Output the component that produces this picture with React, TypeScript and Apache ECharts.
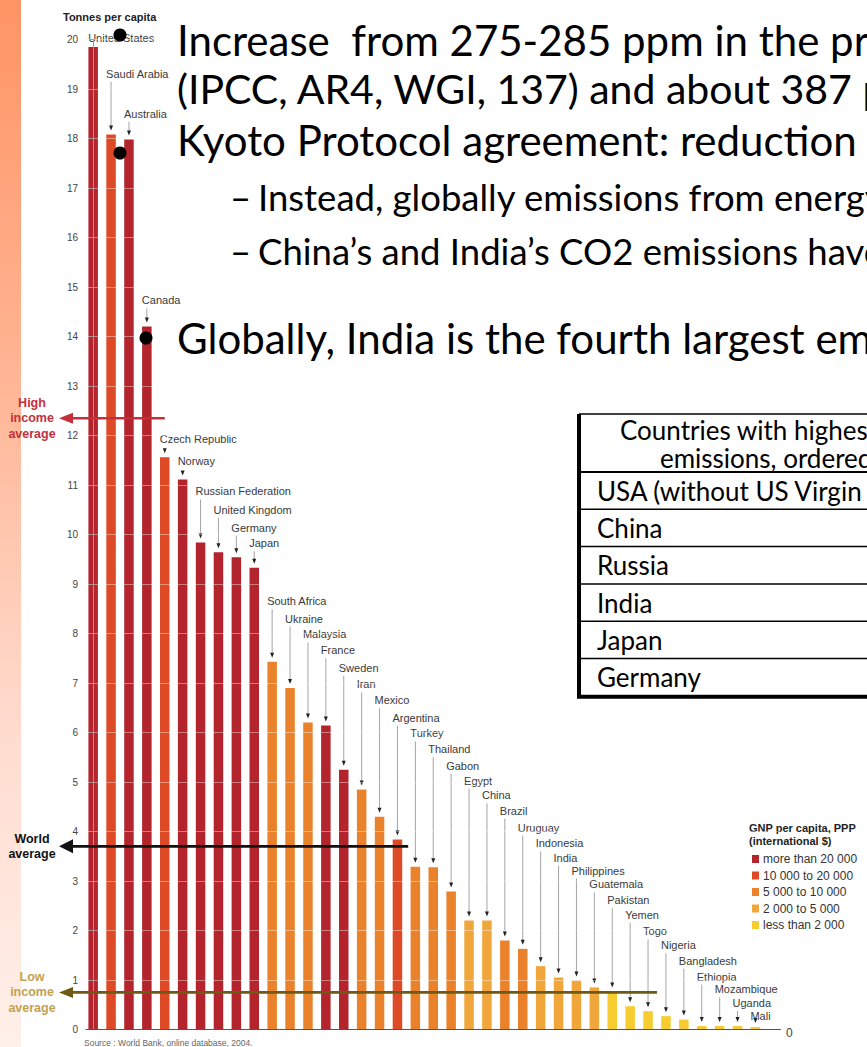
import React, { useEffect, useRef } from "react";
import * as echarts from "echarts";

// CO2 emissions per capita by country (tonnes), ordered from highest to lowest
const countries = [
  "United States", "Saudi Arabia", "Australia", "Canada", "Czech Republic", "Norway",
  "Russian Federation", "United Kingdom", "Germany", "Japan", "South Africa", "Ukraine",
  "Malaysia", "France", "Sweden", "Iran", "Mexico", "Argentina", "Turkey", "Thailand",
  "Gabon", "Egypt", "China", "Brazil", "Uruguay", "Indonesia", "India", "Philippines",
  "Guatemala", "Pakistan", "Yemen", "Togo", "Nigeria", "Bangladesh", "Ethiopia",
  "Mozambique", "Uganda", "Mali",
];
const emissions = [
  19.85, 18.08, 17.98, 14.2, 11.56, 11.11, 9.84, 9.64, 9.54, 9.33, 7.43, 6.9,
  6.2, 6.14, 5.25, 4.85, 4.3, 3.84, 3.29, 3.28, 2.79, 2.2, 2.2, 1.8, 1.63, 1.28,
  1.05, 0.99, 0.85, 0.77, 0.47, 0.37, 0.27, 0.2, 0.07, 0.07, 0.07, 0.05,
];
// GNP class of each country (index into incomeClasses)
const incomeClass = [
  0, 1, 0, 0, 1, 0, 0, 0, 0, 0, 2, 2, 2, 0, 0, 2, 2, 1, 2, 2,
  2, 3, 3, 2, 2, 3, 3, 3, 3, 4, 4, 4, 4, 4, 4, 4, 4, 4,
];
// height (tonnes) at which each country's name callout sits
const calloutLevel = [
  20.04, 19.31, 18.5, 14.73, 11.92, 11.49, 10.87, 10.5, 10.14, 9.82, 8.65, 8.3,
  7.98, 7.66, 7.31, 6.97, 6.65, 6.3, 5.98, 5.66, 5.33, 5.03, 4.73, 4.42, 4.08,
  3.76, 3.47, 3.21, 2.93, 2.61, 2.32, 1.98, 1.7, 1.39, 1.07, 0.81, 0.53, 0.28,
];
const incomeClasses = [
  "more than 20 000", "10 000 to 20 000", "5 000 to 10 000", "2 000 to 5 000", "less than 2 000",
];
const classColors = ["#b3242c", "#de4a26", "#ea822c", "#f0a63a", "#f6cc30"];

// reference averages: label, level (tonnes), index of the last bar the line reaches
const averageLabels = ["High\nincome\naverage", "World\naverage", "Low\nincome\naverage"];
const averageValues = [12.35, 3.7, 0.75];
const averageReach = [4.0, 17.6, 31.5];
const averageLineColors = ["#c4303a", "#111111", "#6e5a14"];
const averageLabelColors = ["#c4303a", "#111111", "#c4a24e"];

// slide text
const bulletLines = [
  "Increase  from 275-285 ppm in the pre-industrial",
  "(IPCC, AR4, WGI, 137) and about 387 ppm",
  "Kyoto Protocol agreement: reduction",
];
const subLines = [
  "Instead, globally emissions from energy",
  "China\u2019s and India\u2019s CO2 emissions have",
];
const lastBullet = "Globally, India is the fourth largest emitter";
const tableHeader = ["Countries with highest", "emissions, ordered"];
const tableRows = ["USA (without US Virgin Islands)", "China", "Russia", "India", "Japan", "Germany"];

const CHART_FONT = "'Liberation Sans', Arial, sans-serif";
const SLIDE_FONT = "Lato, 'Open Sans', sans-serif";

export default function App() {
  const ref = useRef<HTMLDivElement>(null);

  useEffect(() => {
    if (!ref.current) return;
    const chart = echarts.init(ref.current, undefined, { renderer: "svg" });

    const barSeries = incomeClasses.map((name, k) => ({
      type: "bar",
      name,
      barWidth: 9.5,
      barGap: "-100%",
      itemStyle: { color: classColors[k] },
      data: emissions
        .map((v, i) => (incomeClass[i] === k ? [i, v] : null))
        .filter((d) => d !== null),
      z: 2,
    }));

    const calloutSeries = {
      type: "custom",
      name: "callouts",
      clip: false,
      z: 4,
      silent: true,
      data: countries.map((c, i) => [i, emissions[i], calloutLevel[i]]),
      renderItem: (params: any, api: any) => {
        const i = api.value(0);
        const top = api.coord([i, api.value(1)]);
        const lab = api.coord([i, api.value(2)]);
        const x = top[0];
        const children: any[] = [
          {
            type: "text",
            x: x - 5,
            y: lab[1],
            style: {
              text: countries[params.dataIndex],
              fontSize: 11,
              fontFamily: CHART_FONT,
              fill: "#3a3a3a",
              align: "left",
              textAlign: "left",
              verticalAlign: "middle",
              textVerticalAlign: "middle",
            },
          },
        ];
        const lineStart = lab[1] + 8;
        const arrowTop = top[1] - 9;
        if (arrowTop - lineStart > 2) {
          children.push({
            type: "line",
            shape: { x1: x, y1: lineStart, x2: x, y2: arrowTop + 1 },
            style: { stroke: "#9a9a9a", lineWidth: 0.9 },
          });
        }
        if (params.dataIndex > 0) {
          children.push({
            type: "polygon",
            shape: { points: [[x - 2, arrowTop], [x + 2, arrowTop], [x, top[1] - 4]] },
            style: { fill: "#222" },
          });
        }
        return { type: "group", children };
      },
    };

    const averageSeries = {
      type: "custom",
      name: "averages",
      clip: false,
      z: 6,
      silent: true,
      data: averageValues.map((v, k) => [v, averageReach[k]]),
      renderItem: (params: any, api: any) => {
        const k = params.dataIndex;
        const y = api.coord([0, api.value(0)])[1];
        const xEnd = api.coord([api.value(1), 0])[0];
        const cs = params.coordSys;
        const tipX = cs.x - 27;
        const color = averageLineColors[k];
        const head = k === 1 ? 7 : 5.5;
        return {
          type: "group",
          children: [
            {
              type: "line",
              shape: { x1: tipX + 8, y1: y, x2: xEnd, y2: y },
              style: { stroke: color, lineWidth: 2.6 },
            },
            {
              type: "polygon",
              shape: { points: [[tipX, y], [tipX + 14, y - head], [tipX + 14, y + head]] },
              style: { fill: color },
            },
            {
              type: "text",
              x: cs.x - 54,
              y: y,
              style: {
                text: averageLabels[k],
                fontSize: 12.5,
                fontWeight: "bold",
                fontFamily: CHART_FONT,
                lineHeight: 15.5,
                fill: averageLabelColors[k],
                align: "center",
                textAlign: "center",
                verticalAlign: "middle",
                textVerticalAlign: "middle",
              },
            },
          ],
        };
      },
    };

    const slideText = (text: string, x: number, y: number, size: number) => ({
      type: "text",
      x,
      y,
      z: 100,
      style: {
        text,
        fontSize: size,
        fontFamily: SLIDE_FONT,
        fill: "#000",
        align: "left",
        textAlign: "left",
        verticalAlign: "middle",
        textVerticalAlign: "middle",
      },
    });

    const bullet = (x: number, y: number) => ({
      type: "circle",
      z: 100,
      shape: { cx: x, cy: y, r: 6.5 },
      style: { fill: "#000" },
    });

    const TABLE_FONT = 26;
    const tableTop = 414;
    const headerBottom = 472;
    const rowH = 37.3;
    const tableLeft = 579;
    const tableBottom = headerBottom + rowH * tableRows.length;
    const cellText = (t: string, x: number, y: number) => ({
      type: "text",
      z: 100,
      x,
      y,
      style: {
        text: t, fontSize: TABLE_FONT, fontFamily: SLIDE_FONT, fill: "#000",
        align: "left", textAlign: "left", verticalAlign: "middle", textVerticalAlign: "middle",
      },
    });
    const tableElements: any[] = [
      {
        type: "rect",
        z: 90,
        shape: { x: tableLeft, y: tableTop, width: 300, height: tableBottom - tableTop },
        style: { fill: "#fff" },
      },
      {
        type: "line",
        z: 95,
        shape: { x1: tableLeft, y1: tableTop, x2: 867, y2: tableTop },
        style: { stroke: "#000", lineWidth: 1.5 },
      },
      {
        type: "rect",
        z: 96,
        shape: { x: tableLeft - 2, y: tableTop, width: 4, height: tableBottom - tableTop + 2 },
        style: { fill: "#000" },
      },
      // two-line header cell, second line indented
      {
        type: "text",
        z: 100,
        x: 620,
        y: tableTop + 30,
        style: {
          text: `{a|${tableHeader[0]}}\n{b|${tableHeader[1]}}`,
          fontSize: TABLE_FONT,
          fontFamily: SLIDE_FONT,
          fill: "#000",
          lineHeight: 28,
          align: "left",
          textAlign: "left",
          verticalAlign: "middle",
          textVerticalAlign: "middle",
          rich: {
            a: { fontSize: TABLE_FONT, fontFamily: SLIDE_FONT, fill: "#000", color: "#000", lineHeight: 28 },
            b: {
              fontSize: TABLE_FONT, fontFamily: SLIDE_FONT, fill: "#000", color: "#000", lineHeight: 28,
              padding: [0, 0, 0, 40],
            },
          },
        },
      },
      ...tableRows.map((t, k) => cellText(t, 597, headerBottom + rowH * k + rowH / 2)),
      ...tableRows.map((t, k) => ({
        type: "line",
        z: 95,
        shape: {
          x1: tableLeft, y1: headerBottom + rowH * k, x2: 867, y2: headerBottom + rowH * k,
        },
        style: { stroke: "#000", lineWidth: k === 0 ? 2 : 1.5 },
      })),
      {
        type: "rect",
        z: 96,
        shape: { x: tableLeft - 2, y: tableBottom - 1, width: 300, height: 4 },
        style: { fill: "#000" },
      },
    ];

    chart.setOption({
      animation: false,
      backgroundColor: "#ffffff",
      title: {
        text: "Tonnes per capita",
        left: 58,
        top: 6,
        textStyle: { fontSize: 11, fontWeight: "bold", fontFamily: CHART_FONT, color: "#222" },
      },
      legend: {
        data: incomeClasses,
        orient: "vertical",
        left: 747,
        top: 848,
        icon: "rect",
        itemWidth: 7,
        itemHeight: 8,
        itemGap: 4.5,
        selectedMode: false,
        textStyle: { fontSize: 12, fontFamily: CHART_FONT, color: "#333", padding: [0, 0, 0, -1] },
      },
      grid: { left: 86, right: 86.5, top: 39.5, bottom: 17.5, containLabel: false },
      xAxis: {
        type: "value",
        min: -0.4,
        max: 38.4,
        axisLabel: { show: false },
        axisTick: { show: false },
        splitLine: { show: false },
        axisLine: { show: true, lineStyle: { color: "#555", width: 1 } },
        z: 8,
      },
      yAxis: {
        type: "value",
        min: 0,
        max: 20,
        interval: 1,
        z: 5,
        axisLine: { show: true, lineStyle: { color: "#9a9a9a", width: 1 } },
        axisTick: { show: true, length: 3, lineStyle: { color: "#9a9a9a" } },
        axisLabel: { fontSize: 10, fontFamily: CHART_FONT, color: "#444", margin: 8 },
        splitLine: { show: true, lineStyle: { color: "rgba(255,255,255,0.4)", width: 1 } },
      },
      series: [...barSeries, calloutSeries, averageSeries],
      graphic: [
        {
          type: "rect",
          z: -1,
          shape: { x: 0, y: 0, width: 21, height: 1047 },
          style: {
            fill: new echarts.graphic.LinearGradient(0, 0, 0, 1, [
              { offset: 0, color: "#ff9464" },
              { offset: 0.35, color: "#ffb493" },
              { offset: 0.7, color: "#ffdccf" },
              { offset: 1, color: "#fff0ea" },
            ]),
          },
        },
        {
          type: "text",
          x: 786,
          y: 1033,
          style: {
            text: "0", fontSize: 12, fontFamily: CHART_FONT, fill: "#444",
            align: "left", textAlign: "left", verticalAlign: "middle", textVerticalAlign: "middle",
          },
        },
        {
          type: "text",
          x: 749,
          y: 834,
          style: {
            text: "GNP per capita, PPP\n(international $)",
            fontSize: 11, fontWeight: "bold", fontFamily: CHART_FONT, fill: "#222", lineHeight: 13,
            align: "left", textAlign: "left", verticalAlign: "middle", textVerticalAlign: "middle",
          },
        },
        {
          type: "text",
          x: 84,
          y: 1043,
          style: {
            text: "Source : World Bank, online database, 2004.",
            fontSize: 8.5, fontFamily: CHART_FONT, fill: "#666",
            align: "left", textAlign: "left", verticalAlign: "middle", textVerticalAlign: "middle",
          },
        },
        bullet(120, 35),
        bullet(120, 153),
        bullet(146, 338),
        slideText(bulletLines[0], 177, 40, 42),
        slideText(bulletLines[1], 177, 88, 41),
        slideText(bulletLines[2], 177, 140, 42),
        slideText("\u2013", 230, 197, 36.5),
        slideText(subLines[0], 258, 197, 36.5),
        slideText("\u2013", 230, 251, 36.5),
        slideText(subLines[1], 258, 251, 36.5),
        slideText(lastBullet, 177, 338, 42),
        ...tableElements,
      ],
    });

    return () => chart.dispose();
  }, []);

  return (
    <div
      ref={ref}
      style={{ position: "absolute", left: 0, top: 0, width: 867, height: 1047, overflow: "hidden" }}
    />
  );
}
